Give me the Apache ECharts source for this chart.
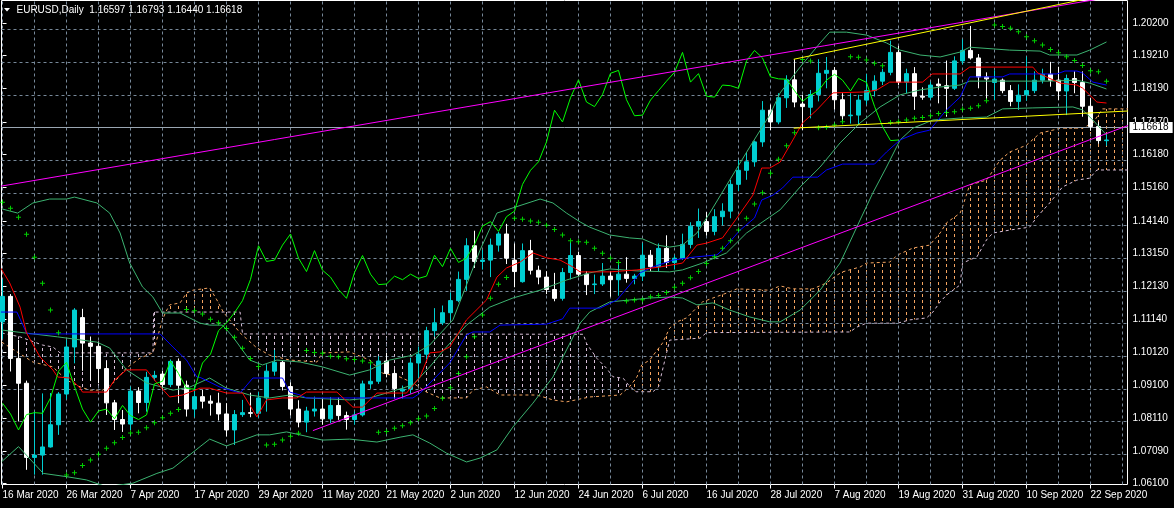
<!DOCTYPE html>
<html><head><meta charset="utf-8">
<script src="https://cdn.jsdelivr.net/npm/echarts@6/dist/echarts.min.js"></script>
<style>html,body{margin:0;padding:0;background:#000;}#c{width:1174px;height:508px;}</style>
</head><body><div id="c"></div><script>
const symbolName = 'EURUSD', timeframe = 'Daily';
const dates = ['2020-03-16','2020-03-17','2020-03-18','2020-03-19','2020-03-20','2020-03-23','2020-03-24','2020-03-25','2020-03-26','2020-03-27','2020-03-30','2020-03-31',
'2020-04-01','2020-04-02','2020-04-03','2020-04-06','2020-04-07','2020-04-08','2020-04-09','2020-04-10','2020-04-13','2020-04-14','2020-04-15','2020-04-16','2020-04-17','2020-04-20','2020-04-21','2020-04-22','2020-04-23','2020-04-24','2020-04-27','2020-04-28','2020-04-29','2020-04-30',
'2020-05-01','2020-05-04','2020-05-05','2020-05-06','2020-05-07','2020-05-08','2020-05-11','2020-05-12','2020-05-13','2020-05-14','2020-05-15','2020-05-18','2020-05-19','2020-05-20','2020-05-21','2020-05-22','2020-05-25','2020-05-26','2020-05-27','2020-05-28','2020-05-29',
'2020-06-01','2020-06-02','2020-06-03','2020-06-04','2020-06-05','2020-06-08','2020-06-09','2020-06-10','2020-06-11','2020-06-12','2020-06-15','2020-06-16','2020-06-17','2020-06-18','2020-06-19','2020-06-22','2020-06-23','2020-06-24','2020-06-25','2020-06-26','2020-06-29','2020-06-30',
'2020-07-01','2020-07-02','2020-07-03','2020-07-06','2020-07-07','2020-07-08','2020-07-09','2020-07-10','2020-07-13','2020-07-14','2020-07-15','2020-07-16','2020-07-17','2020-07-20','2020-07-21','2020-07-22','2020-07-23','2020-07-24','2020-07-27','2020-07-28','2020-07-29','2020-07-30','2020-07-31',
'2020-08-03','2020-08-04','2020-08-05','2020-08-06','2020-08-07','2020-08-10','2020-08-11','2020-08-12','2020-08-13','2020-08-14','2020-08-17','2020-08-18','2020-08-19','2020-08-20','2020-08-21','2020-08-24','2020-08-25','2020-08-26','2020-08-27','2020-08-28','2020-08-31',
'2020-09-01','2020-09-02','2020-09-03','2020-09-04','2020-09-07','2020-09-08','2020-09-09','2020-09-10','2020-09-11','2020-09-14','2020-09-15','2020-09-16','2020-09-17','2020-09-18','2020-09-21','2020-09-22','2020-09-23','2020-09-24'];

const open = [
1.1105,1.1183,1.0993,1.0917,1.0690,1.0697,1.0722,1.0790,1.0884,1.1028,
1.1118,1.1040,1.1030,1.0962,1.0857,1.0806,1.0792,1.0893,1.0858,1.0935,
1.0945,1.0913,1.0984,1.0911,1.0838,1.0876,1.0862,1.0856,1.0823,1.0774,
1.0821,1.0827,1.0825,1.0872,1.0954,1.0981,1.0907,1.0838,1.0798,1.0832,
1.0838,1.0808,1.0849,1.0818,1.0806,1.0820,1.0915,1.0923,1.0985,1.0947,
1.0893,1.0899,1.0979,1.1006,1.1078,1.1102,1.1133,1.1170,1.1235,1.1338,
1.1290,1.1294,1.1340,1.1374,1.1294,1.1228,1.1323,1.1263,1.1242,1.1204,
1.1177,1.1256,1.1308,1.1251,1.1219,1.1221,1.1245,1.1234,1.1251,1.1238,
1.1245,1.1309,1.1274,1.1330,1.1287,1.1300,1.1342,1.1398,1.1412,1.1382,
1.1427,1.1444,1.1526,1.1569,1.1595,1.1656,1.1753,1.1717,1.1791,1.1846,
1.1772,1.1762,1.1801,1.1866,1.1875,1.1785,1.1736,1.1738,1.1784,1.1813,
1.1842,1.1869,1.1930,1.1839,1.1865,1.1796,1.1793,1.1833,1.1828,1.1820,
1.1904,1.1936,1.1913,1.1855,1.1838,1.1845,1.1813,1.1780,1.1800,1.1813,
1.1845,1.1863,1.1845,1.1812,1.1850,1.1838,1.1765,1.1703,1.16597];
const high = [
1.1236,1.1190,1.1050,1.0925,1.0830,1.0886,1.0887,1.0890,1.1050,1.1147,
1.1145,1.1060,1.1045,1.0985,1.0866,1.0835,1.0907,1.0905,1.0952,1.0955,
1.0955,1.0990,1.0993,1.0925,1.0907,1.0897,1.0880,1.0888,1.0856,1.0835,
1.0866,1.0888,1.0890,1.0975,1.1019,1.0985,1.0920,1.0865,1.0845,1.0876,
1.0872,1.0875,1.0873,1.0830,1.0830,1.0925,1.0975,1.1000,1.1010,1.0960,
1.0910,1.0995,1.1029,1.1090,1.1147,1.1155,1.1195,1.1259,1.1361,1.1384,
1.1325,1.1360,1.1380,1.1405,1.1345,1.1345,1.1356,1.1277,1.1260,1.1255,
1.1270,1.1350,1.1320,1.1260,1.1250,1.1285,1.1260,1.1285,1.1303,1.1252,
1.1346,1.1325,1.1345,1.1370,1.1310,1.1375,1.1410,1.1452,1.1441,1.1450,
1.1468,1.1540,1.1601,1.1625,1.1660,1.1781,1.1770,1.1805,1.1860,1.1909,
1.1800,1.1815,1.1909,1.1916,1.1885,1.1805,1.1805,1.1800,1.1864,1.1860,
1.1880,1.1966,1.1950,1.1880,1.1885,1.1823,1.1840,1.1850,1.1905,1.1918,
1.1970,1.2011,1.1925,1.1869,1.1875,1.1850,1.1830,1.1832,1.1917,1.1872,
1.1880,1.1901,1.1886,1.1862,1.1872,1.1872,1.1790,1.1718,1.16793];
const low = [
1.1053,1.0953,1.0800,1.0652,1.0637,1.0637,1.0720,1.0759,1.0868,1.0978,
1.0955,1.0925,1.0917,1.0820,1.0774,1.0768,1.0774,1.0825,1.0830,1.0925,
1.0895,1.0905,1.0856,1.0815,1.0813,1.0840,1.0818,1.0803,1.0754,1.0728,
1.0814,1.0813,1.0812,1.0830,1.0940,1.0895,1.0818,1.0782,1.0767,1.0815,
1.0790,1.0795,1.0805,1.0775,1.0790,1.0815,1.0900,1.0915,1.0935,1.0870,
1.0870,1.0885,1.0927,1.0990,1.1060,1.1095,1.1110,1.1165,1.1200,1.1270,
1.1265,1.1242,1.1320,1.1282,1.1211,1.1225,1.1250,1.1220,1.1190,1.1168,
1.1170,1.1235,1.1245,1.1187,1.1190,1.1215,1.1182,1.1185,1.1225,1.1220,
1.1230,1.1260,1.1260,1.1270,1.1265,1.1295,1.1330,1.1362,1.1369,1.1370,
1.1400,1.1422,1.1505,1.1540,1.1580,1.1641,1.1692,1.1710,1.1760,1.1762,
1.1692,1.1728,1.1780,1.1820,1.1755,1.1720,1.1712,1.1710,1.1770,1.1795,
1.1830,1.1860,1.1830,1.1805,1.1754,1.1785,1.1785,1.1774,1.1733,1.1815,
1.1893,1.1908,1.1820,1.1786,1.1785,1.1805,1.1765,1.1754,1.1782,1.1805,
1.1835,1.1825,1.1784,1.1738,1.1805,1.1733,1.1690,1.1650,1.16440];
const close = [
1.1183,1.0993,1.0917,1.0690,1.0697,1.0722,1.0790,1.0884,1.1028,1.1141,
1.1040,1.1030,1.0962,1.0857,1.0806,1.0792,1.0893,1.0858,1.0935,1.0941,
1.0913,1.0984,1.0911,1.0838,1.0876,1.0862,1.0856,1.0823,1.0774,1.0821,
1.0827,1.0825,1.0872,1.0954,1.0981,1.0907,1.0838,1.0798,1.0832,1.0838,
1.0808,1.0849,1.0818,1.0806,1.0820,1.0915,1.0923,1.0985,1.0947,1.0901,
1.0899,1.0979,1.1006,1.1078,1.1102,1.1133,1.1170,1.1235,1.1338,1.1290,
1.1294,1.1340,1.1374,1.1300,1.1259,1.1323,1.1263,1.1242,1.1204,1.1177,
1.1256,1.1308,1.1251,1.1219,1.1221,1.1245,1.1234,1.1251,1.1238,1.1245,
1.1309,1.1274,1.1330,1.1287,1.1300,1.1342,1.1398,1.1412,1.1382,1.1427,
1.1444,1.1526,1.1569,1.1595,1.1656,1.1753,1.1717,1.1791,1.1846,1.1778,
1.1764,1.1801,1.1866,1.1875,1.1785,1.1736,1.1738,1.1784,1.1813,1.1842,
1.1869,1.1930,1.1839,1.1865,1.1796,1.1793,1.1830,1.1828,1.1820,1.1904,
1.1936,1.1913,1.1855,1.1849,1.1848,1.1813,1.1780,1.1799,1.1813,1.1845,
1.1863,1.1845,1.1812,1.1850,1.1838,1.1765,1.1703,1.1660,1.16618];

// Parabolic SAR, one value per bar
const sar = [
1.1471,1.1453,1.1425,1.1373,1.1303,1.1223,1.1141,1.1072,1.0636,1.0643,
1.0665,1.0682,1.0700,1.0718,1.0735,1.0751,1.0765,1.0767,1.0781,1.0796,
1.0811,1.0825,1.0837,1.1143,1.1139,1.1129,1.1113,1.1102,1.1085,1.1058,
1.1024,1.0993,1.0968,1.0728,1.0730,1.0743,1.0755,1.0764,1.1017,1.1011,
1.1009,1.1000,1.0998,1.0992,1.0990,1.0985,1.0980,1.0767,1.0769,1.0779,
1.0787,1.0796,1.0808,1.0817,1.0840,1.0871,1.0903,1.0947,1.0998,1.1059,
1.1126,1.1177,1.1220,1.1241,1.1422,1.1419,1.1414,1.1410,1.1401,1.1388,
1.1371,1.1353,1.1350,1.1349,1.1330,1.1315,1.1300,1.1287,1.1169,1.1172,
1.1173,1.1182,1.1186,1.1195,1.1211,1.1223,1.1240,1.1259,1.1284,1.1304,
1.1330,1.1353,1.1386,1.1422,1.1466,1.1500,1.1560,1.1603,1.1644,1.1684,
1.1908,1.1904,1.1699,1.1701,1.1708,1.1718,1.1917,1.1915,1.1907,1.1897,
1.1889,1.1715,1.1718,1.1723,1.1728,1.1731,1.1736,1.1743,1.1746,1.1748,
1.1756,1.1759,1.1767,1.1782,1.2014,1.2009,1.2004,1.1993,1.1978,1.1966,
1.1953,1.1939,1.1929,1.1917,1.1905,1.1890,1.1874,1.1871,1.1842];

// Indicator lines as [bar index, price] vertices
const bbUpper = [[-0.1,1.1451],[1.9,1.1438],[3.8,1.1469],[5.9,1.1481],[8.0,1.1481],[9.0,1.1487],[11.8,1.1469],[13.4,1.1438],[14.7,1.1377],[15.9,1.1285],[17.5,1.1212],[18.8,1.1181],[20.0,1.1132],[22.2,1.1132],[23.4,1.1117],[24.7,1.1101],[25.9,1.1095],[27.5,1.1095],[28.8,1.1059],[30.9,1.0988],[32.5,1.0973],[34.3,1.0988],[37.2,1.0982],[40.0,1.0967],[43.4,1.0942],[45.9,1.0958],[48.4,1.0988],[51.3,1.1003],[53.4,1.1034],[56.3,1.1111],[59.7,1.1325],[61.8,1.1438],[63.8,1.1454],[67.2,1.1481],[68.8,1.1469],[70.5,1.1438],[72.2,1.1411],[73.4,1.1395],[75.9,1.1371],[78.4,1.1362],[80.0,1.1359],[81.8,1.1340],[83.4,1.1334],[85.0,1.1340],[86.8,1.1377],[88.4,1.1438],[90.9,1.1539],[93.4,1.1640],[95.9,1.1738],[97.2,1.1806],[99.7,1.1885],[102.2,1.1959],[103.4,1.1992],[105.5,1.1992],[108.0,1.1983],[110.5,1.1959],[112.2,1.1937],[114.7,1.1922],[117.2,1.1916],[119.7,1.1931],[120.9,1.1946],[125.9,1.1937],[129.7,1.1934],[130.9,1.1922],[134.3,1.1922],[135.9,1.1937],[138.0,1.1962]];
const bbMiddle = [[-0.1,1.1080],[1.8,1.1074],[6.9,1.1059],[11.8,1.1043],[13.4,1.1025],[15.5,1.0958],[18.0,1.0918],[21.3,1.0896],[23.4,1.0905],[25.9,1.0933],[28.0,1.0902],[30.9,1.0881],[33.4,1.0872],[35.9,1.0881],[38.0,1.0872],[43.4,1.0866],[45.9,1.0872],[48.4,1.0890],[51.3,1.0912],[53.4,1.0967],[55.5,1.1028],[58.0,1.1095],[60.9,1.1150],[63.8,1.1178],[67.2,1.1202],[70.5,1.1233],[73.4,1.1255],[75.9,1.1267],[79.3,1.1261],[83.4,1.1258],[85.0,1.1264],[87.5,1.1285],[90.5,1.1316],[93.0,1.1377],[95.9,1.1426],[97.2,1.1448],[99.7,1.1518],[102.2,1.1579],[104.7,1.1653],[107.2,1.1714],[109.7,1.1763],[112.2,1.1800],[114.7,1.1815],[117.2,1.1824],[119.7,1.1830],[120.9,1.1842],[130.9,1.1842],[134.3,1.1845],[135.9,1.1836],[138.0,1.1818]];
const bbLower = [[-0.1,1.0677],[2.0,1.0723],[5.1,1.0641],[8.0,1.0631],[10.5,1.0621],[13.0,1.0600],[16.3,1.0611],[19.3,1.0641],[21.3,1.0657],[24.7,1.0723],[25.9,1.0746],[28.0,1.0725],[31.8,1.0759],[33.4,1.0759],[35.5,1.0768],[37.2,1.0759],[40.0,1.0743],[43.4,1.0746],[46.8,1.0737],[49.7,1.0752],[51.3,1.0759],[53.4,1.0734],[55.5,1.0703],[58.0,1.0676],[59.7,1.0688],[61.8,1.0713],[63.8,1.0783],[66.3,1.0856],[68.8,1.0936],[70.5,1.1019],[72.2,1.1101],[73.4,1.1135],[75.9,1.1166],[78.4,1.1172],[80.9,1.1178],[83.4,1.1181],[85.0,1.1178],[86.8,1.1157],[88.8,1.1163],[90.9,1.1141],[93.4,1.1120],[95.9,1.1105],[97.2,1.1105],[99.7,1.1141],[102.2,1.1202],[104.7,1.1285],[107.2,1.1417],[108.8,1.1500],[110.5,1.1579],[112.2,1.1662],[113.8,1.1698],[116.3,1.1723],[119.7,1.1729],[123.0,1.1732],[125.0,1.1757],[128.8,1.1760],[133.8,1.1763],[135.0,1.1754],[136.3,1.1723],[138.0,1.1677]];
const tenkan = [[-0.3,1.1273],[0.9,1.1224],[2.2,1.1150],[3.0,1.1071],[4.7,1.0997],[6.3,1.0958],[6.9,1.0936],[8.4,1.0933],[9.7,1.0902],[10.0,1.0890],[13.0,1.0890],[14.0,1.0927],[15.5,1.0958],[18.0,1.0958],[19.3,1.0918],[20.9,1.0875],[22.5,1.0881],[24.7,1.0902],[25.9,1.0902],[28.0,1.0887],[30.0,1.0887],[31.8,1.0814],[33.0,1.0866],[35.0,1.0872],[36.8,1.0872],[38.0,1.0890],[41.8,1.0890],[43.8,1.0844],[45.0,1.0844],[46.8,1.0887],[50.5,1.0887],[52.2,1.0936],[53.4,1.1010],[54.7,1.1013],[55.9,1.1028],[58.0,1.1111],[60.5,1.1172],[61.8,1.1242],[63.0,1.1270],[64.7,1.1288],[66.3,1.1316],[68.0,1.1301],[69.7,1.1294],[71.3,1.1273],[72.2,1.1258],[75.9,1.1258],[79.3,1.1264],[82.2,1.1273],[85.0,1.1285],[86.8,1.1340],[88.0,1.1346],[90.0,1.1362],[91.8,1.1423],[93.8,1.1493],[94.9,1.1576],[95.9,1.1576],[97.2,1.1594],[98.8,1.1662],[100.0,1.1714],[101.8,1.1754],[103.8,1.1806],[108.0,1.1809],[109.3,1.1815],[110.9,1.1839],[115.0,1.1839],[116.2,1.1864],[119.7,1.1864],[120.9,1.1885],[128.8,1.1885],[129.4,1.1867],[132.2,1.1836],[134.3,1.1830],[135.0,1.1821],[136.8,1.1778],[138.0,1.1775]];
const kijun = [[-0.3,1.1135],[1.8,1.1135],[3.0,1.1071],[3.4,1.1068],[19.7,1.1068],[21.3,1.1028],[23.0,1.0988],[24.3,1.0936],[24.7,1.0935],[27.2,1.0905],[29.7,1.0887],[31.3,1.0933],[35.0,1.0933],[35.9,1.0890],[37.2,1.0881],[38.0,1.0872],[51.3,1.0872],[52.2,1.0887],[53.8,1.0927],[55.9,1.0979],[58.0,1.1065],[58.8,1.1074],[60.9,1.1074],[62.2,1.1095],[68.0,1.1098],[70.0,1.1114],[70.9,1.1147],[74.7,1.1147],[76.8,1.1172],[79.7,1.1255],[81.3,1.1273],[83.8,1.1294],[86.3,1.1303],[89.3,1.1310],[90.0,1.1325],[92.2,1.1386],[94.0,1.1423],[94.9,1.1478],[96.3,1.1493],[97.5,1.1515],[98.8,1.1548],[101.9,1.1548],[103.0,1.1570],[105.0,1.1588],[109.0,1.1588],[110.5,1.1625],[112.2,1.1662],[114.3,1.1683],[115.9,1.1692],[118.0,1.1754],[119.7,1.1793],[120.9,1.1855],[125.0,1.1855],[125.9,1.1864],[131.8,1.1864],[132.8,1.1873],[134.3,1.1873],[135.0,1.1867],[136.3,1.1839],[138.0,1.1830]];
const spanA = [[-0.1,1.1043],[3.8,1.0982],[6.3,1.0967],[8.0,1.0927],[9.7,1.0906],[10.9,1.0896],[12.5,1.0896],[14.0,1.0921],[15.5,1.0964],[17.2,1.0994],[18.8,1.1010],[20.0,1.1111],[20.4,1.1135],[20.9,1.1157],[22.2,1.1163],[23.0,1.1193],[23.8,1.1202],[25.9,1.1209],[26.8,1.1172],[27.6,1.1135],[29.7,1.1071],[31.8,1.1025],[33.4,1.1003],[35.9,1.0988],[39.3,1.0982],[40.0,1.1010],[43.4,1.1013],[45.9,1.0988],[47.5,1.0948],[49.7,1.0936],[51.3,1.0918],[53.0,1.0890],[54.7,1.0872],[58.0,1.0872],[58.8,1.0896],[60.5,1.0906],[62.2,1.0881],[66.8,1.0881],[68.8,1.0866],[70.5,1.0860],[73.4,1.0875],[77.2,1.0881],[78.4,1.0907],[79.3,1.0936],[79.9,1.0973],[80.9,1.0988],[82.5,1.1040],[83.4,1.1086],[84.3,1.1105],[85.5,1.1117],[87.5,1.1166],[88.8,1.1178],[90.5,1.1193],[91.8,1.1206],[95.9,1.1202],[97.2,1.1215],[98.8,1.1206],[101.3,1.1206],[103.0,1.1224],[104.3,1.1248],[105.0,1.1258],[107.2,1.1273],[108.0,1.1285],[110.9,1.1288],[111.9,1.1310],[113.8,1.1331],[115.9,1.1340],[117.2,1.1377],[118.0,1.1408],[119.7,1.1438],[120.0,1.1457],[120.9,1.1524],[123.0,1.1539],[124.7,1.1600],[125.9,1.1625],[128.0,1.1646],[129.7,1.1683],[131.3,1.1692],[132.2,1.1698],[135.0,1.1698],[136.3,1.1714],[137.5,1.1757],[141.0,1.1757]];
const spanB = [[-0.1,1.1071],[2.2,1.1059],[5.0,1.1034],[6.3,1.1028],[7.2,1.1010],[18.8,1.1010],[18.9,1.1135],[20.4,1.1135],[27.6,1.1135],[29.7,1.1135],[30.0,1.1068],[72.6,1.1067],[73.0,1.1039],[74.3,1.0993],[75.5,1.0963],[76.3,1.0937],[77.6,1.0932],[78.4,1.0907],[79.2,1.0891],[81.3,1.0891],[82.0,1.0906],[83.0,1.1009],[83.4,1.1049],[87.2,1.1055],[88.0,1.1072],[105.9,1.1074],[106.8,1.1089],[108.0,1.1101],[111.9,1.1101],[113.4,1.1111],[115.5,1.1117],[116.3,1.1135],[117.2,1.1166],[118.0,1.1187],[119.7,1.1218],[120.0,1.1285],[121.8,1.1304],[123.0,1.1356],[123.8,1.1377],[125.9,1.1386],[128.4,1.1395],[129.3,1.1426],[130.9,1.1469],[132.5,1.1518],[134.3,1.1539],[135.9,1.1545],[136.8,1.1570],[141.0,1.1570]];
// cloud segments: [from index, to index, which span is on top]
const cloudSegments = [[-1,20.4,'B'],[20.4,27.6,'A'],[27.6,78.4,'B'],[78.4,142,'A']];
const chikouShift = 26;

// Trendlines drawn on the chart (two anchor points each)
const magentaUpper = [[-1.5,1.1515],[141,1.2110]];
const magentaLower = [[38.8,1.0772],[141,1.1709]];
const yellowUpper = [[98.9,1.1909],[141,1.2122]];
const yellowLower = [[98.9,1.1698],[141,1.1751]];

const priceTicks = [1.20200,1.19210,1.18190,1.17170,1.16180,1.15160,1.14140,1.13150,1.12130,1.11140,1.10120,1.09100,1.08110,1.07090,1.06100];
const dateTickIndex = [0,8,16,24,32,40,48,56,64,72,80,88,96,104,112,120,128,136];
const monthNames = ['Jan','Feb','Mar','Apr','May','Jun','Jul','Aug','Sep','Oct','Nov','Dec'];

// ---------- build ----------
const last = close.length - 1;
const fmt = v => v.toFixed(5);
const FONT = '"Liberation Sans", Arial, sans-serif';
const AX_FS = 10, TITLE_FS = 10;
const X_MIN = -0.125, X_MAX = 140.625;
const Y_MIN = 1.06070, Y_MAX = 1.20889;
const gridIdx = []; for (let i = 0; i <= 140; i += 4) gridIdx.push(i);
function dateLabel(i){ const p = dates[i].split('-'); return (+p[2]) + ' ' + monthNames[+p[1]-1] + ' ' + p[0]; }
function hatch(color){ const c=document.createElement('canvas'); c.width=8; c.height=6; const g=c.getContext('2d'); g.fillStyle=color; g.fillRect(2,0,1,3); return c; }
const SANDY = '#f4a460', THISTLE = '#d8bfd8';
const hatchA = hatch(SANDY), hatchB = hatch(THISTLE);

function lineSeries(name, data, color, z, type){
  return {name, type:'line', data, z, symbol:'none', showSymbol:false, silent:true, clip:true, animation:false,
    lineStyle:{color, width:1, type: type || 'solid'}};
}

const chart = echarts.init(document.getElementById('c'), null, {renderer:'canvas', width:1174, height:508});
chart.setOption({
  backgroundColor:'#000', animation:false,
  textStyle:{fontFamily:FONT},
  grid:{left:1.5, top:0.5, width:1126, height:484, show:true, borderColor:'#ffffff', borderWidth:1, backgroundColor:'#000', outerBoundsMode:'none', containLabel:false},
  xAxis:{type:'value', min:X_MIN, max:X_MAX, position:'bottom',
    axisLine:{show:false}, splitLine:{show:false},
    axisTick:{show:true, customValues:dateTickIndex, length:4, lineStyle:{color:'#fff'}},
    axisLabel:{customValues:dateTickIndex, formatter:v=>dateLabel(Math.round(v)), color:'#fff', align:'left', margin:6, fontSize:AX_FS, fontFamily:FONT}},
  yAxis:{type:'value', position:'right', min:Y_MIN, max:Y_MAX, scale:true,
    axisLine:{show:false}, splitLine:{show:false},
    axisTick:{show:true, customValues:priceTicks, length:4, lineStyle:{color:'#fff'}},
    axisLabel:{customValues:priceTicks, formatter:v=>fmt(v), color:'#fff', margin:5, fontSize:AX_FS, fontFamily:FONT}},
  graphic:[
    {type:'polygon', shape:{points:[[4,8],[10,8],[7,11.5]]}, style:{fill:'#fff'}, z:100},
    {type:'text', x:16.5, y:10.5, z:100, style:{text: symbolName + ',' + timeframe + '  ' + fmt(open[last]) + ' ' + fmt(high[last]) + ' ' + fmt(low[last]) + ' ' + fmt(close[last]),
      fill:'#fff', fontSize:TITLE_FS, fontFamily:FONT, verticalAlign:'middle'}}
  ],
  series:[
    {name:'grid', type:'line', data:[], z:1, silent:true, animation:false,
      markLine:{silent:true, animation:false, symbol:['none','none'], label:{show:false},
        lineStyle:{color:'#778899', type:[3,3], width:1},
        emphasis:{disabled:true},
        data: priceTicks.map(v=>({yAxis:v})).concat(gridIdx.map(v=>({xAxis:v})))}},
    {name:'cloud', type:'custom', z:2, silent:true, clip:true, animation:false, data:[[0,1.1]],
      renderItem:function(params, api){
        const children = cloudSegments.map(seg=>{
          const a = spanA.filter(p=>p[0]>=seg[0] && p[0]<=seg[1]);
          const b = spanB.filter(p=>p[0]>=seg[0] && p[0]<=seg[1]).reverse();
          const pts = a.concat(b).map(p=>api.coord(p));
          return {type:'polygon', shape:{points:pts}, style:{fill:{image: seg[2]==='A' ? hatchA : hatchB, repeat:'repeat'}, stroke:null}};
        });
        return {type:'group', children};
      }},
    lineSeries('Senkou A', spanA, SANDY, 3, [3,3]),
    lineSeries('Senkou B', spanB, THISTLE, 3, [3,3]),
    {name:'bid', type:'line', data:[], z:4, silent:true, animation:false,
      markLine:{silent:true, animation:false, symbol:['none','none'],
        lineStyle:{color:'#9aa6b2', type:'solid', width:1}, emphasis:{disabled:true},
        label:{show:true, position:'end', distance:2, formatter:()=>fmt(close[last]), backgroundColor:'#ffffff', color:'#000000',
          padding:[1,4,0,3], fontSize:AX_FS, fontFamily:FONT, lineHeight:10},
        data:[{yAxis: close[last]}]}},
    {name:'EURUSD', type:'candlestick', z:5, silent:true, animation:false,
      data: dates.map((d,i)=>[i, open[i], close[i], low[i], high[i]]),
      encode:{x:0, y:[1,2,3,4]}, barWidth:4,
      itemStyle:{color:'#00ced1', color0:'#ffffff', borderColor:'#00ced1', borderColor0:'#ffffff', borderWidth:1}},
    lineSeries('BB upper', bbUpper, '#3cb371', 6),
    lineSeries('BB middle', bbMiddle, '#3cb371', 6),
    lineSeries('BB lower', bbLower, '#3cb371', 6),
    lineSeries('Kijun', kijun, '#0000ff', 6),
    lineSeries('Tenkan', tenkan, '#ff0000', 6),
    lineSeries('Chikou', close.slice(chikouShift).map((c,i)=>[i,c]), '#00ff00', 6),
    {name:'SAR', type:'scatter', z:7, silent:true, animation:false,
      data: sar.map((v,i)=>[i,v]), symbol:'path://M2,0H3V2H5V3H3V5H2V3H0V2H2Z', symbolSize:5,
      itemStyle:{color:'#00ff00'}},
    lineSeries('Trend upper', magentaUpper, '#ff00ff', 8),
    lineSeries('Trend lower', magentaLower, '#ff00ff', 8),
    lineSeries('Channel upper', yellowUpper, '#ffff00', 8),
    lineSeries('Channel lower', yellowLower, '#ffff00', 8)
  ]
});
</script></body></html>
